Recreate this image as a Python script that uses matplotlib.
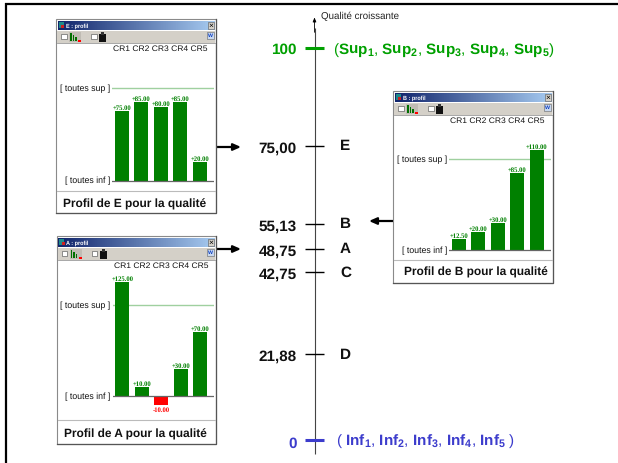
import numpy as np
import matplotlib
matplotlib.use("Agg")
import matplotlib.pyplot as plt
from matplotlib.patches import Rectangle

plt.rcParams['font.family'] = ['Liberation Sans', 'DejaVu Sans']
plt.rcParams['mathtext.fontset'] = 'custom'
plt.rcParams['mathtext.rm'] = 'Liberation Sans'
plt.rcParams['mathtext.bf'] = 'Liberation Sans:bold'
plt.rcParams['mathtext.default'] = 'regular'
plt.rcParams['text.hinting'] = 'no_hinting'
plt.rcParams['text.hinting_factor'] = 8

W, H = 618, 464
criteria = ["CR1", "CR2", "CR3", "CR4", "CR5"]
profile_E = [75.0, 85.0, 80.0, 85.0, 20.0]
profile_A = [125.0, 10.0, -10.0, 30.0, 70.0]
profile_B = [12.5, 20.0, 30.0, 85.0, 110.0]
scores = [75.00, 55.13, 48.75, 42.75, 21.88]
score_labels = ["75,00", "55,13", "48,75", "42,75", "21,88"]
score_names = ["E", "B", "A", "C", "D"]
axis_title = "Qualité croissante"

GREEN = "#008000"
AXGREEN = "#00a000"
BLUE = "#3c3ccc"

fig = plt.figure(figsize=(W / 100, H / 100), dpi=100, facecolor="white")


def px_axes(x0, y0, x1, y1, **kw):
    return fig.add_axes([x0 / W, 1 - y1 / H, (x1 - x0) / W, (y1 - y0) / H], **kw)


main = px_axes(0, 0, W, H)
main.set_xlim(0, W)
main.set_ylim((441 - 464) / 3.92, 441 / 3.92)
main.axis("off")
px = px_axes(0, 0, W, H, zorder=2)
px.set_xlim(0, W)
px.set_ylim(H, 0)
px.axis("off")
px.patch.set_alpha(0)

AX_X = 314.5
main.plot([AX_X, AX_X], [-3.6, 105], color="#444444", lw=0.8, solid_capstyle="butt")
main.annotate("", xy=(AX_X, 107.8), xytext=(AX_X, 104),
              arrowprops=dict(arrowstyle="-|>,head_width=0.1,head_length=0.25", color="black", lw=0.6,
                              shrinkA=0, shrinkB=0))
main.text(321, 108.2, axis_title, fontsize=7.0, color="#222222", va="center", ha="left")

for v, lab, nm in zip(scores, score_labels, score_names):
    main.plot([305, 324], [v, v], color="black", lw=1.0, solid_capstyle="butt")
    main.text(296.5, v - 0.4, lab, fontsize=11, fontweight="bold", ha="right", va="center", color="#111111")
    main.text(340, v + 0.1, nm, fontsize=11, fontweight="bold", ha="left", va="center", color="#111111")

main.plot([305, 324], [100, 100], color=AXGREEN, lw=2.2, solid_capstyle="butt")
main.text(296.5, 99.8, "100", fontsize=11, fontweight="bold", color=AXGREEN, ha="right", va="center")
sup = ", ".join(r"$\mathbf{Sup_{%d}}$" % i for i in range(1, 6))
main.text(333, 99.8, "(" + sup + ")", fontsize=11, color=AXGREEN, ha="left", va="center")

main.plot([305, 324], [0, 0], color=BLUE, lw=2.2, solid_capstyle="butt")
main.text(296.5, -0.7, "0", fontsize=11, fontweight="bold", color=BLUE, ha="right", va="center")
inf = ", ".join(r"$\mathbf{Inf_{%d}}$" % i for i in range(1, 6))
main.text(336, 0, "( " + inf + " )", fontsize=11, color=BLUE, ha="left", va="center")


def arrow(x0, x1, y):
    v = (441 - y) / 3.92
    main.annotate("", xy=(x1, v), xytext=(x0, v),
                  arrowprops=dict(arrowstyle="-|>,head_width=0.2,head_length=0.45", color="black", lw=1.6,
                                  shrinkA=0, shrinkB=0))


arrow(216, 241, 148)
arrow(216, 241, 250)
arrow(393, 369, 222)

grad = np.linspace(0, 1, 64)[None, :, None]
c0 = np.array([0x10, 0x24, 0x6b]) / 255
c1 = np.array([0xa6, 0xca, 0xf0]) / 255
grad_img = c0 + (c1 - c0) * grad


def window(name, vals, left, top, right, bottom, inf_y, sup_y, sep_y, cap_y, cap_x):
    px.add_patch(Rectangle((left, top), right - left, bottom - top, fc="white", ec="#8a8a8a", lw=0.8, zorder=1))
    px.plot([right, right, left], [top, bottom, bottom], color="#555555", lw=0.9, zorder=1.5)
    # title bar
    px.imshow(grad_img, extent=(left + 1.5, right - 1.5, top + 11, top + 2), aspect="auto", zorder=2)
    px.text(left + 10, top + 6.6, f"{name} : profil", fontsize=4.0, fontweight="bold", color="white",
            ha="left", va="center", zorder=3)
    px.add_patch(Rectangle((left + 2.5, top + 3), 5, 6, fc="#1f8a8a", ec="none", zorder=3))
    px.add_patch(Rectangle((left + 5, top + 6), 3, 3, fc="#cc2020", ec="none", zorder=4))
    px.add_patch(Rectangle((right - 8, top + 3), 6, 7, fc="#d4d0c8", ec="#555555", lw=0.4, zorder=3))
    px.text(right - 5, top + 6.3, "×", fontsize=6, color="black", ha="center", va="center", zorder=4)
    # toolbar
    px.add_patch(Rectangle((left + 1, top + 11.5), right - left - 2, 12.5, fc="#d4d0c8", ec="none", zorder=2))
    px.plot([left + 1, right - 1], [top + 24, top + 24], color="#999999", lw=0.6, zorder=3)
    px.add_patch(Rectangle((left + 5, top + 14.5), 5.5, 5.5, fc="white", ec="#666666", lw=0.5, zorder=3))
    px.add_patch(Rectangle((left + 13, top + 13), 12, 10, fc="#c0bcb4", ec="none", zorder=3))
    for dx, hh in zip((14, 16.5, 19), (8, 6, 3.5)):
        px.add_patch(Rectangle((left + dx, top + 21.5 - hh), 1.8, hh, fc="#007000", ec="none", zorder=4))
    px.add_patch(Rectangle((left + 22, top + 20.5), 3, 2, fc="#ff0000", ec="none", zorder=4))
    px.add_patch(Rectangle((left + 35, top + 14.5), 5.5, 5.5, fc="white", ec="#666666", lw=0.5, zorder=3))
    px.add_patch(Rectangle((left + 43, top + 15), 7, 7.5, fc="#111111", ec="none", zorder=3))
    px.add_patch(Rectangle((left + 45, top + 13), 3, 3, fc="#333333", ec="none", zorder=3))
    px.add_patch(Rectangle((right - 9, top + 12.5), 7, 7, fc="#c8d8f0", ec="#666666", lw=0.4, zorder=3))
    px.text(right - 5.5, top + 16, "W", fontsize=3.8, fontweight="bold", color="#1040c0", ha="center",
            va="center", zorder=4)
    # caption
    px.plot([left + 1, right - 1], [sep_y, sep_y], color="#bbbbbb", lw=0.8, zorder=3)
    px.text(cap_x, cap_y, f"Profil de {name} pour la qualité", fontsize=8.6, fontweight="bold",
            color="#111111", ha="center", va="center", zorder=3)
    # CR labels
    px.text(left + 57, top + 29, " ".join(criteria), fontsize=6.1, color="#111111", ha="left", va="center", zorder=3)
    # side labels
    px.text(left + 54, sup_y - 0.5, "[ toutes sup ]", fontsize=6.3, color="#111111", ha="right", va="center", zorder=3)
    px.text(left + 54, inf_y - 0.5, "[ toutes inf ]", fontsize=6.3, color="#111111", ha="right", va="center", zorder=3)

    # plot
    x0, x1 = left + 56, right - 2
    unit = (inf_y - sup_y) / 100
    y_top = top + 34
    y_bot = sep_y - 1
    ax = px_axes(x0, y_top, x1, y_bot, zorder=5)
    ax.patch.set_alpha(0)
    ax.axis("off")
    ax.set_xlim(-0.5, (x1 - x0) / 19.5 - 0.5)
    ax.set_ylim((inf_y - y_bot) / unit, (inf_y - y_top) / unit)
    ax.axhline(100, color="#9fd09f", lw=1.0, zorder=1)
    ax.axhline(0, color="#666666", lw=0.9, zorder=3)
    pos = np.arange(len(vals))
    ax.bar(pos, vals, width=0.74, color=[GREEN if v >= 0 else "#ff0000" for v in vals], zorder=2)
    for p, v in zip(pos, vals):
        ax.text(p, v + (0.7 if v >= 0 else -1.5), f"{v:+.2f}", fontsize=4.8, fontweight="bold",
                family="Liberation Serif", color=GREEN if v >= 0 else "#ff0000",
                ha="center", va="bottom" if v >= 0 else "top", zorder=4)


window("E", profile_E, 56, 20, 216, 214, 181.7, 89.3, 192, 204, 135)
window("A", profile_A, 56.5, 237, 216, 445, 397, 306, 421, 434, 135.5)
window("B", profile_B, 393, 92, 553, 284, 251, 160, 261, 272, 476)

px.set_xlim(0, W)
px.set_ylim(H, 0)
px.set_aspect("auto")

# page border: top and left rules
px.plot([5, W], [4.5, 4.5], color="black", lw=1.6, zorder=6, solid_capstyle="butt")
px.plot([6, 6], [4, H], color="black", lw=1.6, zorder=6, solid_capstyle="butt")

fig.savefig("out.png", dpi=100)
